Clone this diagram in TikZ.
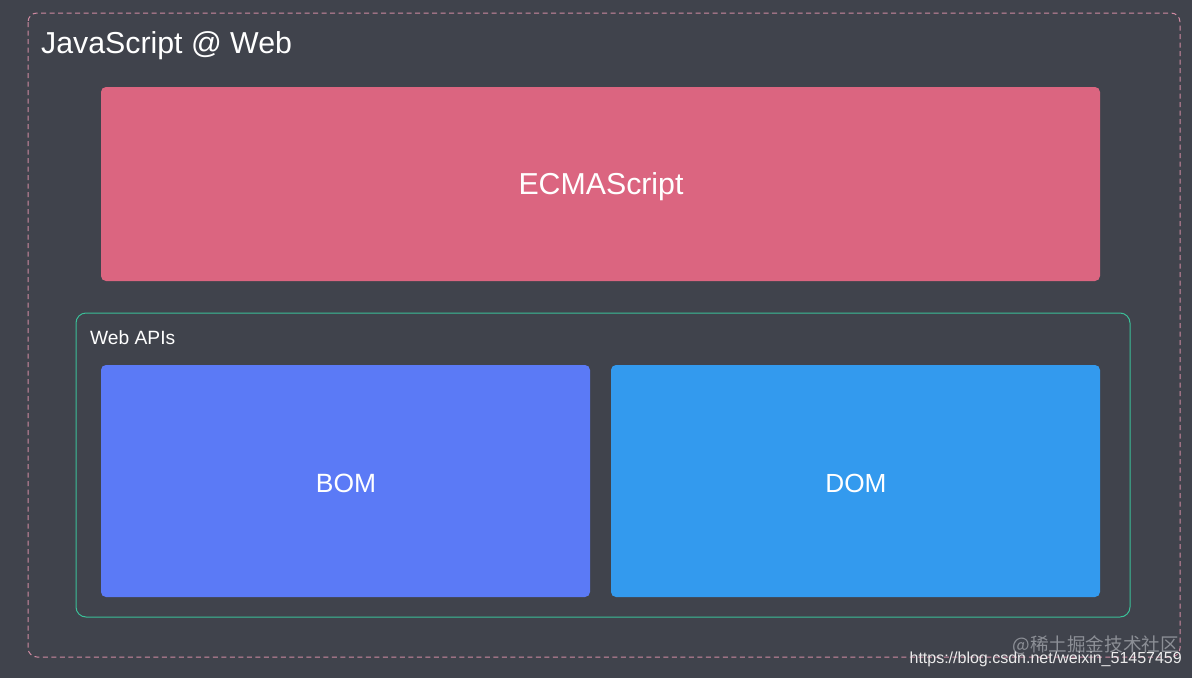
\documentclass[tikz,border=0pt]{standalone}
\usepackage{fontspec}
\setmainfont{Liberation Sans}
\newfontfamily\cjk{Noto Sans CJK SC}
\definecolor{bgc}{HTML}{40434C}
\definecolor{ecmac}{HTML}{DB6580}
\definecolor{bomc}{HTML}{5B7AF6}
\definecolor{domc}{HTML}{339AEE}
\definecolor{tealc}{HTML}{3BBF98}
\definecolor{dashc}{HTML}{D08AA2}
\definecolor{wmc}{HTML}{8C8F96}
\tikzset{
  fillbox/.style={draw=none, rounded corners=5pt},
  boxtext/.style={text=white, anchor=center},
}
\begin{document}
\begin{tikzpicture}[x=1pt,y=-1pt]
\fill[bgc] (0,0) rectangle (1192,678);
\useasboundingbox (0,0) rectangle (1192,678);
% outer dashed container
\draw[dashc, dash pattern=on 5pt off 3.5pt, line width=1pt, rounded corners=9pt] (28,13) rectangle (1180,657);
\node[anchor=base west, text=white, font=\fontsize{30.3}{34}\selectfont, inner sep=0pt] (title) at (41,53) {JavaScript @ Web};
% ECMAScript
\fill[ecmac, fillbox] (101,87) rectangle (1100,281);
\node[boxtext, font=\fontsize{30.3}{34}\selectfont] (ecmas) at (601,186.5) {ECMAScript};
% Web APIs
\draw[tealc, line width=1pt, rounded corners=10pt] (76,313) rectangle (1130,617);
\node[anchor=west, text=white, font=\fontsize{19.2}{22}\selectfont, inner sep=0pt] (webapis) at (90,337.5) {Web APIs};
\fill[bomc, fillbox] (101,365) rectangle (590,597);
\node[boxtext, font=\fontsize{26.4}{30}\selectfont] (bomt) at (346,483) {BOM};
\fill[domc, fillbox] (611,365) rectangle (1100,597);
\node[boxtext, font=\fontsize{26.2}{30}\selectfont] (domt) at (856,483) {DOM};
% watermarks
\node[anchor=east, text=wmc, font=\cjk\fontsize{18.6}{20}\selectfont, inner sep=0pt] (wm1) at (1179,645) {@稀土掘金技术社区};
\node[anchor=east, text=white!92!black, font=\fontsize{16}{18}\selectfont, inner sep=0pt] (wm2) at (1182,659.5) {https://blog.csdn.net/weixin\_51457459};
\end{tikzpicture}
\end{document}
